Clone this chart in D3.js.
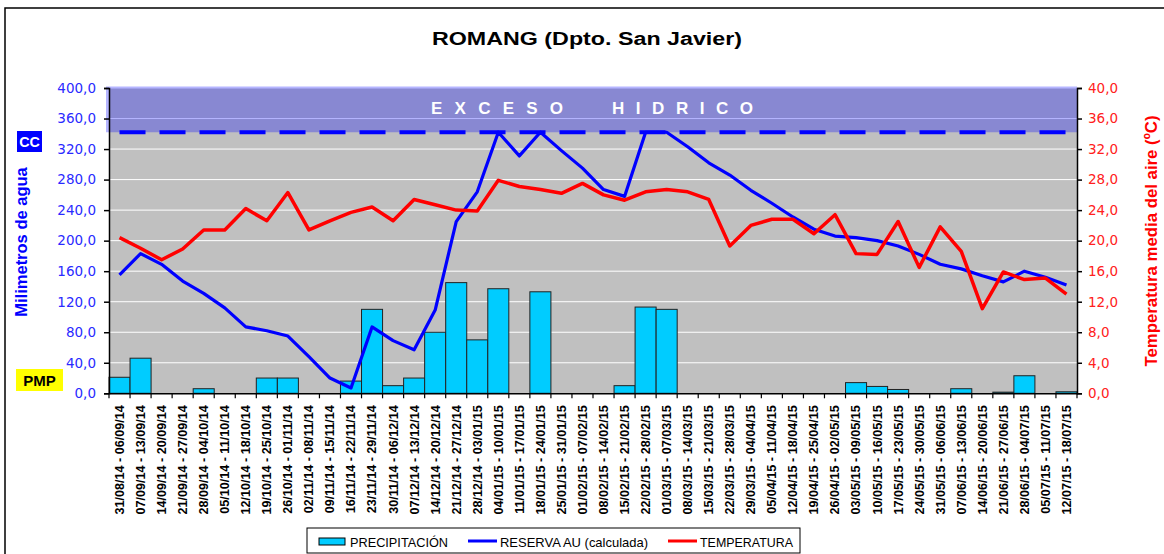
<!DOCTYPE html>
<html>
<head>
<meta charset="utf-8">
<script src="https://cdn.jsdelivr.net/npm/d3@7"></script>
<style>
  html, body { margin: 0; padding: 0; background: #ffffff; }
  svg { display: block; }
</style>
</head>
<body>
<svg id="chart" width="1164" height="554"></svg>
<script>
const categories = [
  "31/08/14 - 06/09/14","07/09/14 - 13/09/14","14/09/14 - 20/09/14","21/09/14 - 27/09/14",
  "28/09/14 - 04/10/14","05/10/14 - 11/10/14","12/10/14 - 18/10/14","19/10/14 - 25/10/14",
  "26/10/14 - 01/11/14","02/11/14 - 08/11/14","09/11/14 - 15/11/14","16/11/14 - 22/11/14",
  "23/11/14 - 29/11/14","30/11/14 - 06/12/14","07/12/14 - 13/12/14","14/12/14 - 20/12/14",
  "21/12/14 - 27/12/14","28/12/14 - 03/01/15","04/01/15 - 10/01/15","11/01/15 - 17/01/15",
  "18/01/15 - 24/01/15","25/01/15 - 31/01/15","01/02/15 - 07/02/15","08/02/15 - 14/02/15",
  "15/02/15 - 21/02/15","22/02/15 - 28/02/15","01/03/15 - 07/03/15","08/03/15 - 14/03/15",
  "15/03/15 - 21/03/15","22/03/15 - 28/03/15","29/03/15 - 04/04/15","05/04/15 - 11/04/15",
  "12/04/15 - 18/04/15","19/04/15 - 25/04/15","26/04/15 - 02/05/15","03/05/15 - 09/05/15",
  "10/05/15 - 16/05/15","17/05/15 - 23/05/15","24/05/15 - 30/05/15","31/05/15 - 06/06/15",
  "07/06/15 - 13/06/15","14/06/15 - 20/06/15","21/06/15 - 27/06/15","28/06/15 - 04/07/15",
  "05/07/15 - 11/07/15","12/07/15 - 18/07/15"
];
const precipitacion = [
  21, 46, 0, 0, 6, 0, 0, 20, 20, 0, 0, 16, 110, 10, 20, 80, 145, 70, 137, 0, 133, 0, 0, 0,
  10, 113, 110, 0, 0, 0, 0, 0, 0, 0, 0, 14, 9, 5, 0, 0, 6, 0, 1.5, 23, 0, 2
];
const reserva = [
  155, 183, 169, 147, 131, 112, 87, 82, 75, 48, 20, 7, 87, 69, 57, 109, 225, 264, 342, 311,
  342, 318, 295, 267, 258, 342, 342, 323, 302, 286, 266, 249, 231, 215, 206, 204, 200, 193,
  182, 169, 163, 154, 146, 160, 152, 142
];
const temperatura = [
  20.4, 19.0, 17.5, 18.9, 21.4, 21.4, 24.2, 22.6, 26.3, 21.4, 22.6, 23.7, 24.4, 22.6, 25.4,
  24.7, 24.0, 23.9, 27.9, 27.1, 26.7, 26.2, 27.5, 26.0, 25.3, 26.4, 26.7, 26.4, 25.4, 19.3,
  22.0, 22.8, 22.8, 20.9, 23.4, 18.3, 18.2, 22.5, 16.5, 21.8, 18.6, 11.1, 15.9, 14.9, 15.1, 13.0
];
const capacidadCampo = 342;   // CC
const leftTicks = [0, 40, 80, 120, 160, 200, 240, 280, 320, 360, 400];
const rightTicks = [0, 4, 8, 12, 16, 20, 24, 28, 32, 36, 40];
const leftDomain = [0, 400];
const rightDomain = [0, 40];
const seriesNames = ["PRECIPITACIÓN", "RESERVA AU (calculada)", "TEMPERATURA"];

const svg = d3.select("#chart");
const fmt = v => d3.format(".1f")(v).replace(".", ",");

const x = d3.scaleBand().domain(categories).range([109, 1077]).padding(0);
const yL = d3.scaleLinear().domain(leftDomain).range([393.3, 88]);
const yR = d3.scaleLinear().domain(rightDomain).range([393.3, 88]);
const cx = d => x(d) + x.bandwidth() / 2;

// outer frame
svg.append("rect").attr("x", 5).attr("y", 8).attr("width", 1170).attr("height", 560)
  .attr("fill", "none").attr("stroke", "#000").attr("stroke-width", 1.5);

// title
svg.append("text").attr("x", 432).attr("y", 45)
  .attr("font-family", "Liberation Sans, Arial, sans-serif").attr("font-weight", "bold")
  .attr("font-size", 18).attr("textLength", 310).attr("lengthAdjust", "spacingAndGlyphs")
  .text("ROMANG (Dpto. San Javier)");

// plot background
svg.append("rect").attr("x", x.range()[0]).attr("y", yL(leftDomain[1]))
  .attr("width", x.range()[1] - x.range()[0]).attr("height", yL(0) - yL(leftDomain[1]))
  .attr("fill", "#c0c0c0");

// gridlines
svg.append("g").selectAll("line").data(leftTicks.filter(t => t > 0)).join("line")
  .attr("x1", x.range()[0]).attr("x2", x.range()[1])
  .attr("y1", d => yL(d)).attr("y2", d => yL(d))
  .attr("stroke", "#ffffff").attr("stroke-width", 1);

// excess band
svg.append("rect").attr("x", x.range()[0] - 3).attr("y", yL(leftDomain[1]) - 1.5)
  .attr("width", x.range()[1] - x.range()[0] + 3)
  .attr("height", yL(capacidadCampo) - yL(leftDomain[1]) + 1.5)
  .attr("fill", "#0000ff").attr("fill-opacity", 0.29);

svg.append("text").attr("x", 431).attr("y", 114)
  .attr("font-family", "Liberation Sans, Arial, sans-serif").attr("font-weight", "bold")
  .attr("font-size", 17).attr("fill", "#ffffff")
  .attr("textLength", 132).attr("lengthAdjust", "spacing").text("E X C E S O");
svg.append("text").attr("x", 612).attr("y", 114)
  .attr("font-family", "Liberation Sans, Arial, sans-serif").attr("font-weight", "bold")
  .attr("font-size", 17).attr("fill", "#ffffff")
  .attr("textLength", 141).attr("lengthAdjust", "spacing").text("H I D R I C O");

// bars
svg.append("g").selectAll("rect").data(categories.map((c, i) => ({c, v: precipitacion[i]})).filter(d => d.v > 0))
  .join("rect")
  .attr("x", d => x(d.c)).attr("width", x.bandwidth())
  .attr("y", d => yL(d.v)).attr("height", d => yL(0) - yL(d.v))
  .attr("fill", "#00ccff").attr("stroke", "#222").attr("stroke-width", 1);

// CC dashed line
const ccLine = d3.line().x(d => cx(d)).y(() => yL(capacidadCampo));
svg.append("path").datum(categories).attr("d", ccLine)
  .attr("fill", "none").attr("stroke", "#0000ff").attr("stroke-width", 4)
  .attr("stroke-dasharray", "26,14");

// reserva line
const resLine = d3.line().x((d, i) => cx(categories[i])).y(d => yL(d));
svg.append("path").datum(reserva).attr("d", resLine)
  .attr("fill", "none").attr("stroke", "#0000ff").attr("stroke-width", 3.2)
  .attr("stroke-linejoin", "round");

// temperatura line
const tLine = d3.line().x((d, i) => cx(categories[i])).y(d => yR(d));
svg.append("path").datum(temperatura).attr("d", tLine)
  .attr("fill", "none").attr("stroke", "#ff0000").attr("stroke-width", 3.5)
  .attr("stroke-linejoin", "round");

// left axis
const gL = svg.append("g").attr("transform", `translate(${x.range()[0]},0)`)
  .call(d3.axisLeft(yL).tickValues(leftTicks).tickFormat(fmt).tickSize(5).tickPadding(8));
gL.selectAll("path, line").attr("stroke", "#000").attr("stroke-width", 1.5);
gL.selectAll("text").attr("fill", "#2a2aff").attr("font-size", 13.5)
  .attr("font-family", "DejaVu Sans, sans-serif");

// right axis
const gR = svg.append("g").attr("transform", `translate(${x.range()[1]},0)`)
  .call(d3.axisRight(yR).tickValues(rightTicks).tickFormat(fmt).tickSize(5).tickPadding(6));
gR.selectAll("path, line").attr("stroke", "#000").attr("stroke-width", 1.5);
gR.selectAll("text").attr("fill", "#ff2020").attr("font-size", 13.5)
  .attr("font-family", "DejaVu Sans, sans-serif");

// bottom axis
const gB = svg.append("g").attr("transform", `translate(0,${yL(0)})`)
  .call(d3.axisBottom(x).tickSize(0));
gB.select("path").attr("stroke", "#000").attr("stroke-width", 1.5);
gB.selectAll("text")
  .attr("transform", "rotate(-90)").attr("text-anchor", "end")
  .attr("x", -12).attr("y", 0).attr("dy", "0.35em")
  .attr("font-family", "Liberation Sans, Arial, sans-serif").attr("font-weight", "bold")
  .attr("font-size", 12.6).attr("fill", "#000");
// band-boundary ticks
const edges = categories.map(c => x(c)).concat([x.range()[1]]);
gB.append("g").selectAll("line").data(edges).join("line")
  .attr("x1", d => d).attr("x2", d => d).attr("y1", 0).attr("y2", 5)
  .attr("stroke", "#000").attr("stroke-width", 1.2);

// axis titles
svg.append("text").attr("transform", "translate(27,242) rotate(-90)")
  .attr("text-anchor", "middle").attr("font-family", "Liberation Sans, Arial, sans-serif")
  .attr("font-weight", "bold").attr("font-size", 16.5).attr("fill", "#0000ff")
  .text("Milimetros de agua");
svg.append("text").attr("transform", "translate(1157,241) rotate(-90)")
  .attr("text-anchor", "middle").attr("font-family", "Liberation Sans, Arial, sans-serif")
  .attr("font-weight", "bold").attr("font-size", 16.8).attr("fill", "#ff0000")
  .text("Temperatura media del aire (ºC)");

// CC and PMP tags
svg.append("rect").attr("x", 17).attr("y", 131).attr("width", 25).attr("height", 21).attr("fill", "#0000ff");
svg.append("text").attr("x", 29.5).attr("y", 147).attr("text-anchor", "middle")
  .attr("font-family", "Liberation Sans, Arial, sans-serif").attr("font-weight", "bold")
  .attr("font-size", 14.3).attr("fill", "#fff").text("CC");
svg.append("rect").attr("x", 16).attr("y", 369).attr("width", 47).attr("height", 22).attr("fill", "#ffff00");
svg.append("text").attr("x", 39.5).attr("y", 385.5).attr("text-anchor", "middle")
  .attr("font-family", "Liberation Sans, Arial, sans-serif").attr("font-weight", "bold")
  .attr("font-size", 15).attr("fill", "#000").text("PMP");

// legend
const lg = svg.append("g");
lg.append("rect").attr("x", 307).attr("y", 528).attr("width", 493).attr("height", 25)
  .attr("fill", "#fff").attr("stroke", "#000").attr("stroke-width", 1);
lg.append("rect").attr("x", 319).attr("y", 538).attr("width", 26).attr("height", 7)
  .attr("fill", "#00ccff").attr("stroke", "#000").attr("stroke-width", 1);
lg.append("line").attr("x1", 468).attr("x2", 497).attr("y1", 541).attr("y2", 541)
  .attr("stroke", "#0000ff").attr("stroke-width", 3);
lg.append("line").attr("x1", 668).attr("x2", 697).attr("y1", 541).attr("y2", 541)
  .attr("stroke", "#ff0000").attr("stroke-width", 3);
const legX = [350, 500, 700], legW = [98, 148, 93];
seriesNames.forEach((n, i) => {
  lg.append("text").attr("x", legX[i]).attr("y", 546.5)
    .attr("font-family", "Liberation Sans, Arial, sans-serif").attr("font-size", 12.8)
    .attr("textLength", legW[i]).attr("lengthAdjust", "spacingAndGlyphs").text(n);
});
</script>
</body>
</html>
